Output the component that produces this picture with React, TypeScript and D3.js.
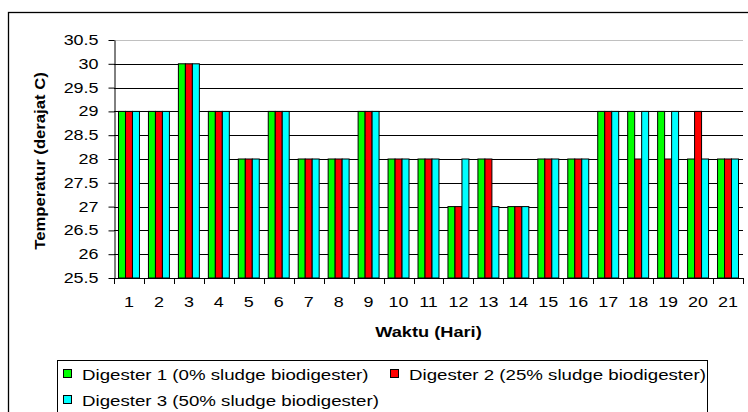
import React, { useEffect, useRef } from "react";
import * as d3 from "d3";

// day labels on the x axis
const days = ["1", "2", "3", "4", "5", "6", "7", "8", "9", "10", "11", "12", "13", "14", "15", "16", "17", "18", "19", "20", "21"];

// temperature readings (degrees C) per digester
const digester1 = [29, 29, 30, 29, 28, 29, 28, 28, 29, 28, 28, 27, 28, 27, 28, 28, 29, 29, 29, 28, 28];
const digester2 = [29, 29, 30, 29, 28, 29, 28, 28, 29, 28, 28, 27, 28, 27, 28, 28, 29, 28, 28, 29, 28];
const digester3 = [29, 29, 30, 29, 28, 29, 28, 28, 29, 28, 28, 28, 27, 27, 28, 28, 29, 29, 29, 28, 28];

const seriesNames = [
  "Digester 1 (0% sludge biodigester)",
  "Digester 2 (25% sludge biodigester)",
  "Digester 3 (50% sludge biodigester)",
];
const seriesColors = ["#00ff00", "#ff0000", "#00ffff"];

const yTicks = [25.5, 26, 26.5, 27, 27.5, 28, 28.5, 29, 29.5, 30, 30.5];

const FONT = "'Liberation Sans', Arial, sans-serif";

const App = () => {
  const svgRef = useRef<SVGSVGElement | null>(null);

  useEffect(() => {
    const svg = d3.select(svgRef.current);
    svg.selectAll("*").remove();

    const left = 114;
    const right = 743;
    const top = 40;
    const bottom = 278;

    const series = [digester1, digester2, digester3];

    const x = d3.scaleBand().domain(days).range([left, right]).paddingInner(0.3).paddingOuter(0.15);
    const xSub = d3.scaleBand().domain(["0", "1", "2"]).range([0, x.bandwidth()]);
    const xEdge = d3.scaleLinear().domain([0, days.length]).range([left, right]);
    const y = d3.scaleLinear().domain([25.5, 30.5]).range([bottom, top]);

    // outer chart frame
    svg
      .append("rect")
      .attr("x", 8.5)
      .attr("y", 12.5)
      .attr("width", 800)
      .attr("height", 500)
      .attr("fill", "#fff")
      .attr("stroke", "#000")
      .attr("stroke-width", 1.3);

    // gridlines
    svg
      .append("g")
      .selectAll("line")
      .data(yTicks.slice(1))
      .enter()
      .append("line")
      .attr("x1", left)
      .attr("x2", right)
      .attr("y1", (d) => Math.round(y(d)) + 0.5)
      .attr("y2", (d) => Math.round(y(d)) + 0.5)
      .attr("stroke", (d) => (d === 30.5 ? "#c0c0c0" : "#000"))
      .attr("stroke-width", 1);

    // bars
    const groups = svg
      .append("g")
      .selectAll("g")
      .data(days)
      .enter()
      .append("g")
      .attr("transform", (d) => `translate(${x(d)},0)`);

    groups
      .selectAll("rect")
      .data((d, i) => series.map((s, k) => ({ k, v: s[i] })))
      .enter()
      .append("rect")
      .attr("x", (d) => xSub(String(d.k)) as number)
      .attr("y", (d) => y(d.v))
      .attr("width", xSub.bandwidth())
      .attr("height", (d) => bottom - y(d.v))
      .attr("fill", (d) => seriesColors[d.k])
      .attr("stroke", "#000")
      .attr("stroke-width", 1);

    // y axis
    const yAxis = svg
      .append("g")
      .attr("transform", `translate(${left + 0.5},0)`)
      .call(
        d3
          .axisLeft(y)
          .tickValues(yTicks)
          .tickSize(6)
          .tickSizeOuter(0)
          .tickPadding(10)
          .tickFormat((d) => String(d))
      );
    yAxis.selectAll("path,line").attr("stroke", "#000");
    yAxis
      .selectAll("text")
      .attr("class", "stretch")
      .attr("data-k", 1.28)
      .style("font-family", FONT)
      .style("font-size", "14px")
      .attr("fill", "#000");

    // x axis line and ticks between categories
    svg
      .append("line")
      .attr("x1", left)
      .attr("x2", right)
      .attr("y1", bottom + 0.5)
      .attr("y2", bottom + 0.5)
      .attr("stroke", "#000");
    svg
      .append("g")
      .selectAll("line")
      .data(d3.range(days.length + 1))
      .enter()
      .append("line")
      .attr("x1", (d) => Math.round(xEdge(d)) + 0.5)
      .attr("x2", (d) => Math.round(xEdge(d)) + 0.5)
      .attr("y1", bottom)
      .attr("y2", bottom + 6)
      .attr("stroke", "#000");

    const xAxis = svg
      .append("g")
      .attr("transform", `translate(0,${bottom})`)
      .call(d3.axisBottom(x).tickSize(0).tickPadding(19));
    xAxis.select(".domain").remove();
    xAxis
      .selectAll("text")
      .attr("class", "stretch")
      .attr("data-k", 1.28)
      .style("font-family", FONT)
      .style("font-size", "14px")
      .attr("fill", "#000");

    // axis titles
    svg
      .append("text")
      .attr("class", "stretch")
      .attr("data-k", 1.3)
      .attr("x", (left + right) / 2)
      .attr("y", 337)
      .attr("text-anchor", "middle")
      .style("font-family", FONT)
      .style("font-size", "14px")
      .style("font-weight", "bold")
      .text("Waktu (Hari)");

    svg
      .append("text")
      .attr("class", "stretch")
      .attr("data-k", 1.19)
      .attr("transform", `translate(45,${(top + bottom) / 2 + 2}) rotate(-90)`)
      .attr("text-anchor", "middle")
      .style("font-family", FONT)
      .style("font-size", "14px")
      .style("font-weight", "bold")
      .text("Temperatur (derajat C)");

    // legend
    const legend = svg.append("g");
    legend
      .append("rect")
      .attr("x", 57.5)
      .attr("y", 360.5)
      .attr("width", 650)
      .attr("height", 80)
      .attr("fill", "#fff")
      .attr("stroke", "#000");

    const legendPos = [
      { x: 63, y: 374 },
      { x: 390, y: 374 },
      { x: 63, y: 400 },
    ];

    const items = legend
      .selectAll("g.item")
      .data(seriesNames)
      .enter()
      .append("g")
      .attr("class", "item")
      .attr("transform", (d, i) => `translate(${legendPos[i].x},${legendPos[i].y})`);

    items
      .append("rect")
      .attr("x", 0.5)
      .attr("y", -4.5)
      .attr("width", 8)
      .attr("height", 8)
      .attr("fill", (d, i) => seriesColors[i])
      .attr("stroke", "#000");

    items
      .append("text")
      .attr("class", "stretch")
      .attr("data-k", 1.245)
      .attr("x", 19)
      .attr("y", 5.5)
      .style("font-family", FONT)
      .style("font-size", "15px")
      .attr("fill", "#000")
      .text((d) => d);

    // the source chart is drawn stretched sideways, widen the text to match
    svg.selectAll<SVGTextElement, unknown>("text.stretch").each(function () {
      const k = +(this.getAttribute("data-k") || 1);
      const w = this.getComputedTextLength();
      this.setAttribute("textLength", String(w * k));
      this.setAttribute("lengthAdjust", "spacingAndGlyphs");
    });
  }, []);

  return (
    <svg
      ref={svgRef}
      width={748}
      height={412}
      style={{ position: "absolute", left: 0, top: 0, background: "#fff" }}
    ></svg>
  );
};

export default App;
